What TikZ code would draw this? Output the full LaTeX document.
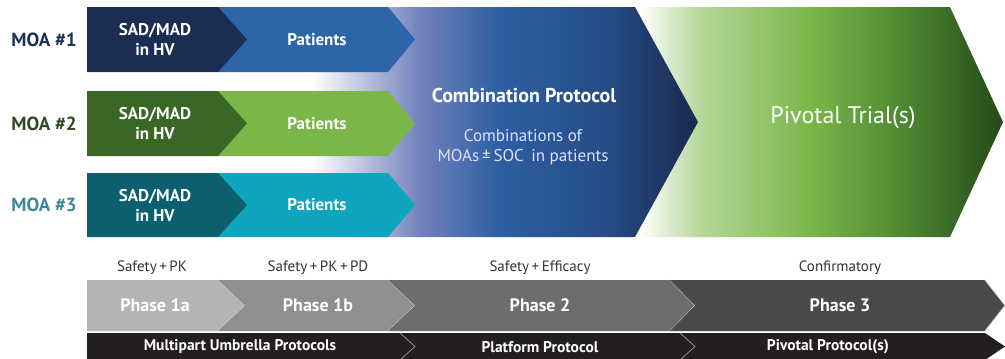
\documentclass[tikz,border=0pt]{standalone}
\usepackage{fontspec}
\setmainfont{PT Sans}
\definecolor{moaone}{HTML}{1F3050}
\definecolor{moatwo}{HTML}{2F4A22}
\definecolor{moathree}{HTML}{3D8A96}
\definecolor{sadone}{HTML}{1B2D52}
\definecolor{sadtwo}{HTML}{3A6725}
\definecolor{sadthree}{HTML}{0B5F6E}
\definecolor{patone}{HTML}{2E64A8}
\definecolor{pattwo}{HTML}{7AB648}
\definecolor{patthree}{HTML}{10A5BE}
\definecolor{combilav}{HTML}{7282BD}
\definecolor{combiblue}{HTML}{2D5FA3}
\definecolor{combimid}{HTML}{264D88}
\definecolor{combidark}{HTML}{1A2A4C}
\definecolor{pivpale}{HTML}{B5D79B}
\definecolor{pivgreen}{HTML}{7AB648}
\definecolor{pivmid}{HTML}{4F8A33}
\definecolor{pivdark}{HTML}{24491A}
\definecolor{phasea}{HTML}{B4B4B4}
\definecolor{phaseb}{HTML}{8F8F8F}
\definecolor{phasec}{HTML}{6D6D6D}
\definecolor{phased}{HTML}{4A4A4A}
\definecolor{protbar}{HTML}{231F20}
\pgfdeclarehorizontalshading{combishade}{100bp}{color(0bp)=(white); color(26.5bp)=(white); color(40bp)=(combilav); color(50bp)=(combiblue); color(63bp)=(combimid); color(75bp)=(combidark); color(100bp)=(combidark)}
\pgfdeclarehorizontalshading{pivshade}{100bp}{color(0bp)=(white); color(25.9bp)=(white); color(34bp)=(pivpale); color(49bp)=(pivgreen); color(61bp)=(pivmid); color(75bp)=(pivdark); color(100bp)=(pivdark)}
\begin{document}
\begin{tikzpicture}[x=1pt, y=-1pt,
 moa/.style={font=\fontsize{19}{21}\selectfont\bfseries},
 inbox/.style={text=white, align=center, font=\fontsize{17}{20}\selectfont\bfseries},
 phasetxt/.style={text=white, font=\fontsize{18}{20}\selectfont\bfseries},
 goal/.style={text=black!80, font=\fontsize{15}{17}\selectfont},
 prot/.style={text=white, font=\fontsize{15.5}{17}\selectfont\bfseries},
 sep/.style={draw=white!85!black, line width=0.8pt},
 sepdark/.style={draw=black!45, line width=0.8pt}]
 \useasboundingbox (0,0) rectangle (1005,359);
 \shade[shading=pivshade] (633,7)--(950,7)--(1003,122)--(950,237)--(633,237)--(698,122)--cycle;
 \shade[shading=combishade] (300,7)--(635,7)--(698,122)--(635,237)--(300,237)--cycle;
 \foreach \i/\t/\b/\name in {1/7/72/one,2/91/156/two,3/173/237/three}{
  \pgfmathsetmacro\m{(\t+\b)/2}
  \fill[pat\name] (218,\t)--(388,\t)--(415,\m)--(388,\b)--(218,\b)--cycle;
  \fill[sad\name] (87,\t)--(218,\t)--(247,\m)--(218,\b)--(87,\b)--cycle;
  \node[inbox] (sad\i) at (155,\m) {SAD/MAD\\in HV};
  \node[inbox] (pat\i) at (317,\m) {Patients};
  \node[moa, text=moa\name] (moa\i) at (44,\m) {MOA \#\i};
 }
 \node[text=white, font=\fontsize{20}{22}\selectfont\bfseries] (combi) at (524,95) {Combination Protocol};
 \node[text=white!88!blue, align=center, font=\fontsize{17}{20}\selectfont] (combisub) at (523,147) {Combinations of\\MOAs\,±\,SOC\, in patients};
 \node[text=white, font=\fontsize{24}{26}\selectfont] (pivot) at (843,118) {Pivotal Trial(s)};
 \def\phtop{280}\def\phbot{331}\def\phmid{305.5}
 \foreach \n/\l/\nl/\r/\tip/\cx/\gx/\txt/\gl in {a/87/87/218/245/155/152/Phase 1a/Safety\,+\,PK,b/218/245/388/415/318/318/Phase 1b/Safety\,+\,PK\,+\,PD,c/388/415/670/695/540/540/Phase 2/Safety\,+\,Efficacy,d/670/695/985/1005/840/840/Phase 3/Confirmatory}{
  \fill[phase\n] (\l,\phtop)--(\r,\phtop)--(\tip,\phmid)--(\r,\phbot)--(\l,\phbot)--(\nl,\phmid)--cycle;
  \draw[sep] (\r,\phtop)--(\tip,\phmid)--(\r,\phbot);
  \node[phasetxt] (phase\n) at (\cx,\phmid) {\txt};
  \node[goal] (goal\n) at (\gx,268) {\gl};
 }
 \fill[protbar] (87,333)--(985,333)--(1005,346.5)--(985,360)--(87,360)--cycle;
 \draw[sepdark] (400,333)--(415,346.5)--(400,360);
 \draw[sepdark] (680,333)--(695,346.5)--(680,360);
 \node[prot] (multi) at (240,347) {Multipart Umbrella Protocols};
 \node[prot] (platform) at (540,347) {Platform Protocol};
 \node[prot] (pivprot) at (828,347) {Pivotal Protocol(s)};
\end{tikzpicture}
\end{document}
